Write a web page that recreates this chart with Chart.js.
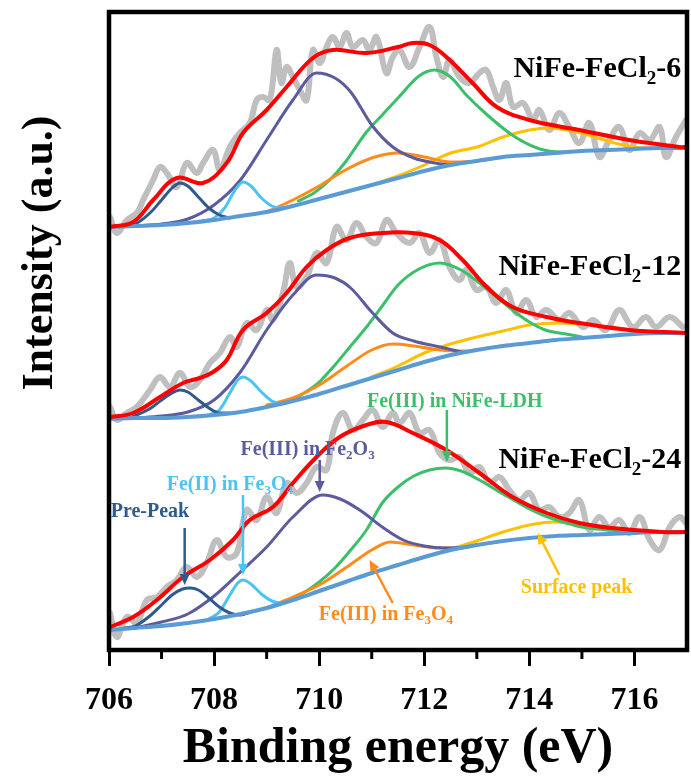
<!DOCTYPE html>
<html>
<head>
<meta charset="utf-8">
<script src="https://cdn.jsdelivr.net/npm/chart.js@4.4.0/dist/chart.umd.min.js"></script>
<style>
  html, body { margin: 0; padding: 0; background: #fff; }
  #wrap { width: 691px; height: 784px; }
</style>
</head>
<body>
<div id="wrap"><canvas id="chart" width="691" height="784"></canvas></div>
<script>
// Eje X (energía de enlace, eV)
const energyTicks = [706, 708, 710, 712, 714, 716];
const minorTicks = [707, 709, 711, 713, 715];

// ---- NiFe-FeCl2-6 (arriba) ----
const raw6 = [[706.02,433],[706.15,417],[706.34,430],[706.53,437],[706.65,450],[706.84,470],[706.97,483],[707.10,477],[707.29,463],[707.48,487],[707.67,477],[707.79,487],[707.98,500],[708.11,480],[708.30,503],[708.49,517],[708.68,527],[708.81,550],[708.93,553],[709.06,550],[709.19,600],[709.28,567],[709.38,583],[709.50,573],[709.63,560],[709.76,550],[709.88,600],[710.01,587],[710.14,603],[710.26,613],[710.39,603],[710.52,617],[710.64,603],[710.83,610],[710.96,600],[711.09,613],[711.28,577],[711.40,593],[711.53,600],[711.72,583],[711.91,603],[712.10,623],[712.23,593],[712.36,573],[712.48,590],[712.67,573],[712.86,567],[713.05,577],[713.18,580],[713.31,563],[713.43,550],[713.56,567],[713.69,543],[713.88,547],[714.07,530],[714.19,540],[714.38,520],[714.57,537],[714.76,523],[714.95,507],[715.14,527],[715.33,493],[715.52,510],[715.71,523],[715.90,500],[716.10,517],[716.29,510],[716.48,523],[716.60,493],[716.79,513],[716.98,530]];
const env6 = [[706.02,423],[706.46,428],[706.84,450],[707.29,472],[707.79,467],[708.24,487],[708.55,517],[709.0,540],[709.38,563],[709.88,592],[710.26,600],[710.9,597],[711.5,603],[711.78,607],[712.1,605],[712.42,593],[712.92,567],[713.38,543],[714.0,530],[714.95,520],[715.9,510],[716.85,503],[717.0,503]];
const bg6 = [[706.0,423],[706.5,424],[707.0,425],[707.5,427],[708.0,430],[708.5,434],[709.0,438],[709.5,444],[710.0,451],[710.5,458],[711.0,465],[711.5,472],[712.0,479],[712.5,485],[713.0,489],[713.5,493],[714.0,495],[714.5,497],[715.0,499],[715.5,500],[716.0,501],[716.5,502],[717.0,502]];
const pre6 = [[706.3,424],[706.5,426],[706.8,438],[707.0,450],[707.2,462],[707.35,467],[707.5,464],[707.7,453],[707.9,442],[708.1,435],[708.3,432]];
const fe2Fe3O4_6 = [[707.8,429],[708.0,432],[708.2,442],[708.4,460],[708.55,468],[708.7,464],[708.9,452],[709.1,444],[709.3,442],[709.5,444]];
const fe3Fe2O3_6 = [[706.5,424],[707.0,426],[707.5,431],[708.0,445],[708.5,470],[709.0,510],[709.5,550],[709.95,577],[710.3,572],[710.6,558],[711.0,525],[711.4,503],[711.8,492],[712.2,487],[712.5,485]];
const fe3Fe3O4_6 = [[709.0,438],[709.5,450],[710.0,464],[710.5,480],[711.0,492],[711.5,497],[712.0,493],[712.5,488],[713.0,489],[713.5,493]];
const fe3Ldh6 = [[709.6,449],[709.9,457],[710.2,470],[710.5,488],[710.9,518],[711.2,535],[711.5,552],[711.9,574],[712.2,580],[712.5,573],[712.8,555],[713.2,535],[713.7,514],[714.2,501],[714.6,498],[715.0,499]];
const surface6 = [[711.0,465],[711.5,474],[712.0,485],[712.5,497],[713.0,503],[713.5,513],[714.0,520],[714.4,522],[714.9,518],[715.3,512],[715.7,506],[716.2,502],[716.6,502]];

// ---- NiFe-FeCl2-12 (centro) ----
const raw12 = [[706.02,243],[706.15,230],[706.34,237],[706.53,243],[706.78,260],[706.97,273],[707.16,263],[707.35,277],[707.54,263],[707.73,270],[707.92,287],[708.11,297],[708.30,313],[708.43,303],[708.62,327],[708.81,320],[709.00,340],[709.12,330],[709.31,357],[709.44,387],[709.57,363],[709.76,373],[709.95,397],[710.14,387],[710.33,423],[710.52,410],[710.71,427],[710.90,413],[711.09,407],[711.28,430],[711.47,417],[711.72,407],[711.91,417],[712.10,397],[712.29,410],[712.48,383],[712.67,370],[712.80,380],[712.99,360],[713.18,363],[713.37,347],[713.56,360],[713.75,337],[713.94,350],[714.13,333],[714.32,340],[714.57,330],[714.76,337],[715.02,323],[715.21,330],[715.46,320],[715.71,340],[715.97,323],[716.22,333],[716.41,323],[716.67,333],[716.92,323]];
const env12 = [[706.02,233],[706.46,237],[706.97,253],[707.41,267],[707.73,272],[707.98,278],[708.24,290],[708.55,320],[709.0,337],[709.38,357],[709.76,383],[710.14,400],[710.58,412],[711.21,417],[711.78,417],[712.29,410],[712.73,390],[713.19,363],[713.68,343],[714.33,333],[714.95,327],[715.9,320],[716.99,317]];
const bg12 = [[706.0,231],[706.5,232],[707.0,232],[707.5,233],[708.0,235],[708.5,238],[709.0,243],[709.5,249],[710.0,256],[710.5,264],[711.0,272],[711.5,280],[712.0,288],[712.5,295],[713.0,300],[713.5,304],[714.0,307],[714.5,310],[715.0,312],[715.5,314],[716.0,316],[716.5,317],[717.0,317]];
const pre12 = [[706.4,232],[706.8,242],[707.0,250],[707.2,257],[707.35,260],[707.5,258],[707.7,250],[707.9,242],[708.1,237],[708.3,237]];
const fe2Fe3O4_12 = [[707.9,235],[708.1,240],[708.3,257],[708.45,270],[708.55,273],[708.7,269],[708.9,258],[709.1,249],[709.3,246],[709.5,249]];
const fe3Fe2O3_12 = [[706.5,232],[707.0,234],[707.5,238],[708.0,250],[708.5,278],[709.0,320],[709.5,355],[709.95,375],[710.3,372],[710.6,362],[711.0,338],[711.4,317],[711.8,309],[712.3,303],[712.7,298]];
const fe3Fe3O4_12 = [[709.0,245],[709.5,252],[710.0,265],[710.5,283],[711.0,300],[711.4,306],[711.8,304],[712.3,300],[712.8,299],[713.2,302],[713.6,305]];
const fe3Ldh12 = [[709.6,253],[710.0,268],[710.3,285],[710.6,304],[710.9,323],[711.2,344],[711.5,365],[711.9,381],[712.3,387],[712.7,380],[713.05,367],[713.4,352],[713.7,339],[714.0,328],[714.3,320],[714.7,316],[715.0,313]];
const surface12 = [[711.0,273],[711.5,284],[712.0,297],[712.5,306],[713.0,313],[713.5,319],[714.0,325],[714.6,327],[715.2,325],[715.8,321],[716.4,318],[716.8,317]];

// ---- NiFe-FeCl2-24 (abajo) ----
const raw24 = [[706.02,37],[706.15,13],[706.34,33],[706.53,27],[706.72,50],[706.91,53],[707.10,63],[707.29,70],[707.48,83],[707.67,73],[707.86,87],[708.05,110],[708.24,93],[708.43,97],[708.62,140],[708.81,130],[709.00,153],[709.19,137],[709.38,167],[709.57,157],[709.76,167],[709.95,183],[710.14,180],[710.26,217],[710.45,237],[710.64,220],[710.83,230],[711.02,240],[711.21,223],[711.40,237],[711.53,227],[711.72,237],[711.91,217],[712.10,220],[712.29,197],[712.48,190],[712.67,193],[712.86,177],[713.05,183],[713.24,167],[713.43,173],[713.62,160],[713.81,150],[714.00,157],[714.19,140],[714.38,143],[714.57,133],[714.76,137],[714.95,150],[715.14,120],[715.33,133],[715.52,123],[715.71,130],[715.90,117],[716.10,133],[716.29,110],[716.48,100],[716.67,123],[716.86,133],[716.98,127]];
const env24 = [[706.02,23],[706.46,33],[706.91,50],[707.41,73],[707.92,90],[708.36,110],[708.68,130],[709.12,143],[709.5,167],[709.95,193],[710.39,213],[710.9,225],[711.28,228],[711.78,217],[712.42,200],[713.05,177],[713.68,153],[714.33,137],[714.95,127],[715.58,122],[716.53,118],[716.99,118]];
const bg24 = [[706.0,20],[706.5,22],[707.0,24],[707.5,27],[708.0,31],[708.5,36],[709.0,42],[709.5,50],[710.0,59],[710.5,68],[711.0,77],[711.5,85],[712.0,93],[712.5,100],[713.0,105],[713.5,109],[714.0,112],[714.5,114],[715.0,115],[715.5,116],[716.0,117],[716.5,118],[717.0,118]];
const pre24 = [[706.3,22],[706.5,24],[706.8,35],[707.0,45],[707.2,55],[707.4,61],[707.55,62],[707.7,60],[707.9,52],[708.1,43],[708.3,37],[708.5,35],[708.7,38]];
const fe2Fe3O4_24 = [[707.9,31],[708.1,38],[708.3,55],[708.45,67],[708.55,70],[708.7,66],[708.9,56],[709.1,49],[709.3,47],[709.5,50]];
const fe3Fe2O3_24 = [[706.5,22],[707.0,28],[707.5,36],[708.0,54],[708.5,78],[709.0,103],[709.5,133],[710.07,155],[710.4,151],[710.8,139],[711.2,123],[711.6,110],[712.0,104],[712.4,102],[712.8,103]];
const fe3Fe3O4_24 = [[709.0,42],[709.5,53],[710.0,65],[710.5,82],[711.0,100],[711.35,108],[711.8,105],[712.3,102],[712.7,102],[713.0,105],[713.4,108]];
const fe3Ldh24 = [[709.3,47],[709.7,57],[710.0,68],[710.3,82],[710.6,100],[710.9,120],[711.2,147],[711.5,163],[711.8,174],[712.1,180],[712.4,182],[712.7,179],[713.05,170],[713.4,159],[713.7,150],[714.0,141],[714.3,134],[714.7,127],[715.0,123],[715.5,120],[716.0,118]];
const surface24 = [[711.0,77],[711.5,85],[712.0,93],[712.5,101],[713.0,109],[713.5,118],[714.0,125],[714.45,128],[714.9,126],[715.3,122],[715.7,118],[716.1,117]];

// Nombres de muestras y etiquetas ("_" = subíndice)
const sampleNames = ['NiFe-FeCl_2-6', 'NiFe-FeCl_2-12', 'NiFe-FeCl_2-24'];
const peakNames = ['Pre-Peak', 'Fe(II) in Fe_3O_4', 'Fe(III) in Fe_2O_3', 'Fe(III) in NiFe-LDH', 'Fe(III) in Fe_3O_4', 'Surface peak'];

// Colores
const C = {
  raw: '#bfbfbf',
  env: '#ff0000',
  bg: '#5b9bd5',
  pre: '#2f5a8e',
  fe2: '#4dc3f5',
  fe3ox: '#5b5b9e',
  fe3mag: '#ff8c1a',
  ldh: '#3cbf6a',
  surf: '#ffc000'
};
const peakColors = [C.pre, C.fe2, C.fe3ox, C.ldh, C.fe3mag, C.surf];

// Posiciones de textos y flechas (en unidades de datos)
const sampleLabelPos = { x: 716.89, y: [573, 375, 182] };
const peakLabelPos = [
  { x: 706.78, y: 133, from: [707.44, 122], to: [707.44, 65] },
  { x: 708.30, y: 160, from: [708.55, 155], to: [708.55, 75] },
  { x: 709.78, y: 195, from: [710.01, 190], to: [710.01, 158] },
  { x: 712.58, y: 243, from: [712.43, 240], to: [712.43, 188] },
  { x: 711.27, y: 30,  from: [711.40, 47],  to: [710.96, 90] },
  { x: 714.90, y: 57,  from: [714.57, 75],  to: [714.16, 117] }
];

const FONT = '"Liberation Serif", "Times New Roman", serif';

function curve(points, color, width, order, mode) {
  return {
    data: points.map(p => ({ x: p[0], y: p[1] })),
    showLine: true,
    borderColor: color,
    borderWidth: width,
    pointRadius: 0,
    fill: false,
    order: order,
    tension: mode === 'monotone' ? 0 : 0.4,
    cubicInterpolationMode: mode === 'monotone' ? 'monotone' : 'default',
    borderCapStyle: 'round',
    borderJoinStyle: 'round'
  };
}

const panels = [
  [raw6, env6, bg6, pre6, fe2Fe3O4_6, fe3Fe2O3_6, fe3Fe3O4_6, fe3Ldh6, surface6],
  [raw12, env12, bg12, pre12, fe2Fe3O4_12, fe3Fe2O3_12, fe3Fe3O4_12, fe3Ldh12, surface12],
  [raw24, env24, bg24, pre24, fe2Fe3O4_24, fe3Fe2O3_24, fe3Fe3O4_24, fe3Ldh24, surface24]
];

const datasets = [];
panels.forEach(p => {
  datasets.push(curve(p[0], C.raw, 6, 4, 'spline'));
  datasets.push(curve(p[3], C.pre, 3, 2, 'monotone'));
  datasets.push(curve(p[4], C.fe2, 3, 2, 'monotone'));
  datasets.push(curve(p[5], C.fe3ox, 3, 2, 'monotone'));
  datasets.push(curve(p[6], C.fe3mag, 3, 2, 'monotone'));
  datasets.push(curve(p[7], C.ldh, 3, 2, 'monotone'));
  datasets.push(curve(p[8], C.surf, 3, 2, 'monotone'));
  datasets.push(curve(p[2], C.bg, 4, 1, 'monotone'));
  datasets.push(curve(p[1], C.env, 4, 0, 'spline'));
});

// Texto con subíndices
function drawRich(ctx, text, x, y, size, color, align) {
  const parts = [];
  for (let i = 0; i < text.length; i++) {
    if (text[i] === '_') {
      parts.push({ t: text[i + 1], sub: true });
      i++;
    } else if (parts.length && !parts[parts.length - 1].sub) {
      parts[parts.length - 1].t += text[i];
    } else {
      parts.push({ t: text[i], sub: false });
    }
  }
  const mainFont = 'bold ' + size + 'px ' + FONT;
  const subFont = 'bold ' + Math.round(size * 0.64) + 'px ' + FONT;
  let w = 0;
  parts.forEach(p => {
    ctx.font = p.sub ? subFont : mainFont;
    p.w = ctx.measureText(p.t).width;
    w += p.w;
  });
  let cx = align === 'right' ? x - w : align === 'center' ? x - w / 2 : x;
  ctx.fillStyle = color;
  ctx.textAlign = 'left';
  ctx.textBaseline = 'alphabetic';
  parts.forEach(p => {
    ctx.font = p.sub ? subFont : mainFont;
    ctx.fillText(p.t, cx, p.sub ? y + size * 0.22 : y);
    cx += p.w;
  });
}

function drawArrow(ctx, x1, y1, x2, y2, color) {
  const ang = Math.atan2(y2 - y1, x2 - x1);
  const head = 11;
  ctx.strokeStyle = color;
  ctx.fillStyle = color;
  ctx.lineWidth = 2.5;
  ctx.beginPath();
  ctx.moveTo(x1, y1);
  ctx.lineTo(x2 - Math.cos(ang) * head * 0.8, y2 - Math.sin(ang) * head * 0.8);
  ctx.stroke();
  ctx.beginPath();
  ctx.moveTo(x2, y2);
  ctx.lineTo(x2 - head * Math.cos(ang) + 5 * Math.sin(ang), y2 - head * Math.sin(ang) - 5 * Math.cos(ang));
  ctx.lineTo(x2 - head * Math.cos(ang) - 5 * Math.sin(ang), y2 - head * Math.sin(ang) + 5 * Math.cos(ang));
  ctx.closePath();
  ctx.fill();
}

const decorations = {
  id: 'decorations',
  afterDraw(chart) {
    const ctx = chart.ctx;
    const xs = chart.scales.x;
    const ys = chart.scales.y;
    const a = chart.chartArea;
    ctx.save();

    // marco
    ctx.strokeStyle = '#000';
    ctx.lineWidth = 4.5;
    ctx.strokeRect(a.left, a.top, a.right - a.left, a.bottom - a.top);

    // ticks menores
    ctx.lineWidth = 3;
    minorTicks.forEach(v => {
      const px = xs.getPixelForValue(v);
      ctx.beginPath();
      ctx.moveTo(px, a.bottom);
      ctx.lineTo(px, a.bottom + 9);
      ctx.stroke();
    });

    // nombres de muestra
    sampleNames.forEach((name, i) => {
      drawRich(ctx, name, xs.getPixelForValue(sampleLabelPos.x), ys.getPixelForValue(sampleLabelPos.y[i]), 30, '#000', 'right');
    });

    // etiquetas de picos con flechas
    peakNames.forEach((name, i) => {
      const p = peakLabelPos[i];
      drawRich(ctx, name, xs.getPixelForValue(p.x), ys.getPixelForValue(p.y), 20, peakColors[i], 'center');
      drawArrow(ctx,
        xs.getPixelForValue(p.from[0]), ys.getPixelForValue(p.from[1]),
        xs.getPixelForValue(p.to[0]), ys.getPixelForValue(p.to[1]), peakColors[i]);
    });

    // título eje Y
    ctx.translate(41, 253);
    ctx.rotate(-Math.PI / 2);
    ctx.font = 'bold 44px ' + FONT;
    ctx.fillStyle = '#000';
    ctx.textAlign = 'center';
    ctx.textBaseline = 'middle';
    ctx.fillText('Intensity (a.u.)', 0, 0);
    ctx.restore();
  }
};

new Chart(document.getElementById('chart'), {
  type: 'scatter',
  data: { datasets: datasets },
  plugins: [decorations],
  options: {
    responsive: false,
    animation: false,
    layout: { padding: { left: 109, right: 4, top: 12, bottom: 5 } },
    plugins: {
      legend: { display: false },
      tooltip: { enabled: false }
    },
    scales: {
      x: {
        type: 'linear',
        min: 706,
        max: 717,
        border: { display: false },
        afterFit: scale => { scale.height = 129; },
        grid: {
          drawOnChartArea: false,
          drawTicks: true,
          tickLength: 16,
          tickWidth: 3,
          tickColor: '#000'
        },
        ticks: {
          stepSize: 2,
          includeBounds: false,
          padding: 16,
          color: '#000',
          font: { family: FONT, size: 32, weight: 'bold' },
          maxRotation: 0,
          callback: v => energyTicks.includes(v) ? String(v) : ''
        },
        title: {
          display: true,
          text: 'Binding energy (eV)',
          color: '#000',
          font: { family: FONT, size: 50, weight: 'bold' },
          padding: { top: 2, bottom: 0 }
        }
      },
      y: {
        display: false,
        min: 0,
        max: 638
      }
    }
  }
});
</script>
</body>
</html>
